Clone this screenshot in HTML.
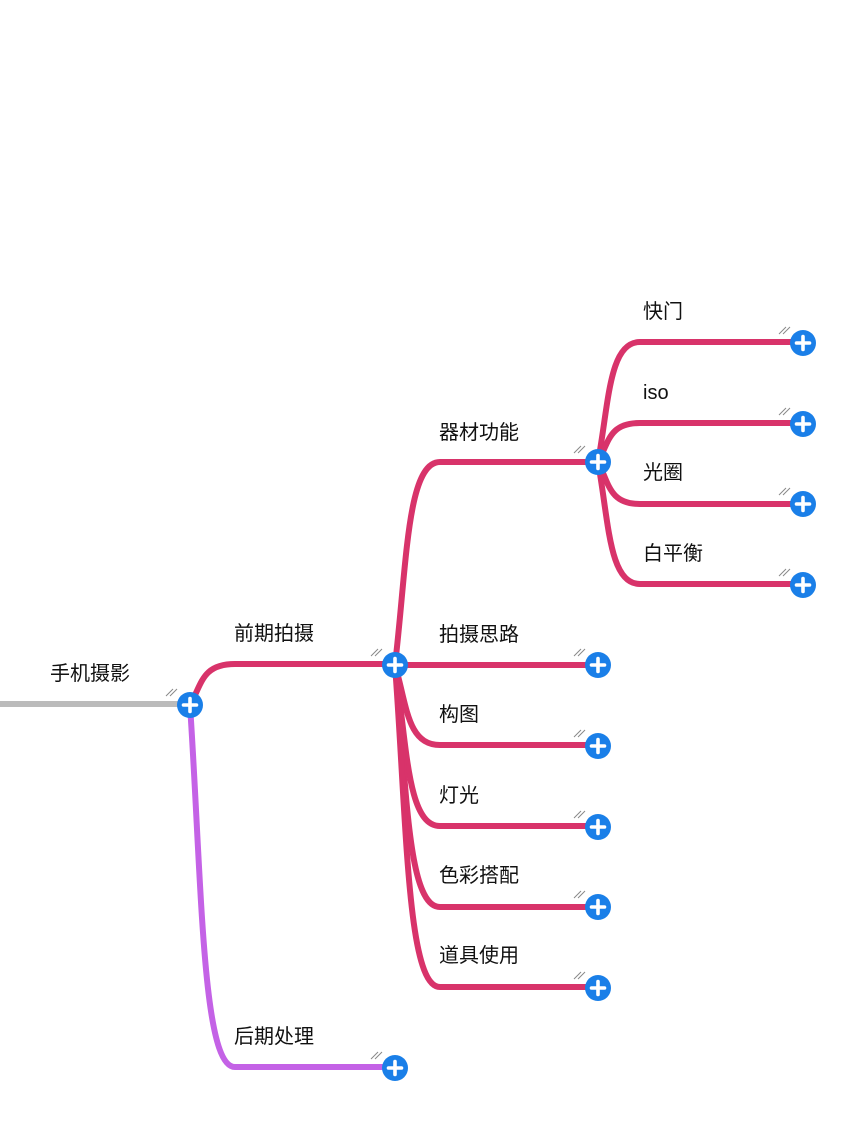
<!DOCTYPE html>
<html><head><meta charset="utf-8"><style>
html,body{margin:0;padding:0;background:#fff;width:854px;height:1138px;overflow:hidden}
svg text{font-family:"Liberation Sans","Noto Sans CJK SC",sans-serif;font-size:20px;fill:#111}
</style></head><body>
<svg width="854" height="1138" viewBox="0 0 854 1138" xmlns="http://www.w3.org/2000/svg">
<defs>
<g id="p">
<line x1="-24" y1="-9" x2="-17" y2="-16" stroke="#888" stroke-width="1"/>
<line x1="-20" y1="-9" x2="-13" y2="-16" stroke="#888" stroke-width="1"/>
<circle r="13" fill="#1a7fe8"/>
<line x1="-6.5" y1="0" x2="6.5" y2="0" stroke="#fff" stroke-width="3.6" stroke-linecap="round"/>
<line x1="0" y1="-6.5" x2="0" y2="6.5" stroke="#fff" stroke-width="3.6" stroke-linecap="round"/>
</g>
</defs>
<g fill="none" stroke-width="6" stroke-linecap="round" stroke-linejoin="round">
<line x1="0" y1="704" x2="180" y2="704" stroke="#bbbbbb" stroke-linecap="butt"/>
<path d="M190 705 C202 684 202 664 235 664 L385 664" stroke="#d8336a"/>
<path d="M190 705 C202 886 202 1067 235 1067 L385 1067" stroke="#c462e6"/>
<g stroke="#d8336a">
<path d="M395 665 C407 563 407 462 440 462 L590 462"/>
<path d="M395 665 L590 665"/>
<path d="M395 665 C407 705 407 745 440 745 L590 745"/>
<path d="M395 665 C407 745 407 826 440 826 L590 826"/>
<path d="M395 665 C407 786 407 907 440 907 L590 907"/>
<path d="M395 665 C407 826 407 987 440 987 L590 987"/>
<path d="M598 462 C609 402 609 342 640 342 L795 342"/>
<path d="M598 462 C609 442 609 423 640 423 L795 423"/>
<path d="M598 462 C609 483 609 504 640 504 L795 504"/>
<path d="M598 462 C609 523 609 584 640 584 L795 584"/>
</g>
</g>
<use href="#p" x="190" y="705"/>
<use href="#p" x="395" y="665"/>
<use href="#p" x="395" y="1068"/>
<use href="#p" x="598" y="462"/>
<use href="#p" x="598" y="665"/>
<use href="#p" x="598" y="746"/>
<use href="#p" x="598" y="827"/>
<use href="#p" x="598" y="907"/>
<use href="#p" x="598" y="988"/>
<use href="#p" x="803" y="343"/>
<use href="#p" x="803" y="424"/>
<use href="#p" x="803" y="504"/>
<use href="#p" x="803" y="585"/>
<text x="50" y="680">手机摄影</text>
<text x="234" y="640">前期拍摄</text>
<text x="234" y="1043">后期处理</text>
<text x="439" y="439">器材功能</text>
<text x="439" y="641">拍摄思路</text>
<text x="439" y="721">构图</text>
<text x="439" y="802">灯光</text>
<text x="439" y="882">色彩搭配</text>
<text x="439" y="962">道具使用</text>
<text x="643" y="318">快门</text>
<text x="643" y="399">iso</text>
<text x="643" y="479">光圈</text>
<text x="643" y="560">白平衡</text>
</svg>
</body></html>
